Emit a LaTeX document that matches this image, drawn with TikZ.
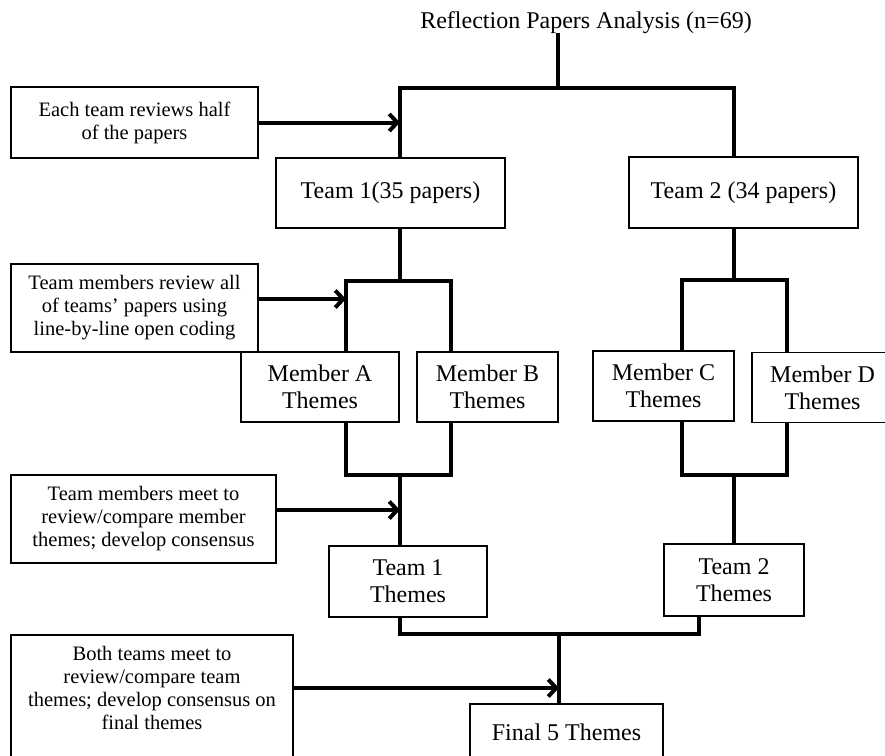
\documentclass[tikz,border=0pt]{standalone}
\usepackage{fontspec}
\setmainfont{Liberation Serif}
\usetikzlibrary{arrows.meta}
\newcommand{\bigtext}{\fontsize{24}{27}\selectfont}
\newcommand{\smalltext}{\fontsize{20.5}{23}\selectfont}
\begin{document}
\begin{tikzpicture}[
    x=1pt, y=-1pt,
    stage/.style={draw, line width=1.5pt, align=center, inner sep=2pt, font=\bigtext},
    note/.style={draw, line width=1.5pt, align=center, inner sep=2pt, font=\smalltext},
    link/.style={line width=4pt},
    flow/.style={link, -{Straight Barb[length=8pt,width=17pt]}}
]
\clip (0,0) rectangle (885,755);

% Title
\node[font=\bigtext, inner sep=0pt, anchor=base] (title) at (586,28) {Reflection Papers Analysis (n=69)};

% Teams
\node[stage, minimum width=229, minimum height=70] (team1) at (390.5,193) {Team 1(35 papers)};
\node[stage, minimum width=229, minimum height=71] (team2) at (743.5,192.5) {Team 2 (34 papers)};

% Members
\node[stage, minimum width=158, minimum height=70] (memberA) at (320,387) {Member A\\Themes};
\node[stage, minimum width=141, minimum height=70] (memberB) at (487.5,387) {Member B\\Themes};
\node[stage, minimum width=141, minimum height=70] (memberC) at (663.5,386) {Member C\\Themes};
\node[stage, minimum width=141, minimum height=70] (memberD) at (822.5,387.5) {Member D\\Themes};

% Team themes and final
\node[stage, minimum width=158, minimum height=71] (themes1) at (408,581.5) {Team 1\\Themes};
\node[stage, minimum width=140, minimum height=72] (themes2) at (734,580) {Team 2\\Themes};
\node[stage, minimum width=193, minimum height=56] (final) at (566.5,732) {Final 5 Themes};

% Notes on the left
\node[note, minimum width=247, minimum height=71] (eachnote) at (134.5,122.5) {Each team reviews half\\of the papers};
\node[note, minimum width=247, minimum height=88] (reviewnote) at (134.5,308) {Team members review all\\of teams’ papers using\\line-by-line open coding};
\node[note, minimum width=265, minimum height=88] (meetnote) at (143.5,519) {Team members meet to\\review/compare member\\themes; develop consensus};
\node[note, minimum width=282, minimum height=170, anchor=north] (bothnote) at (152,634) {};
\node[font=\smalltext, align=center] (bothtext) at (152,688) {Both teams meet to\\review/compare team\\themes; develop consensus on\\final themes};

% Columns and junctions
\coordinate (xL) at (400,0);
\coordinate (xR) at (734,0);
\coordinate (xA) at (346,0);
\coordinate (xB) at (451,0);
\coordinate (xC) at (682,0);
\coordinate (xD) at (787,0);
\coordinate (xE) at (699,0);
\coordinate (s1) at (558,88);
\coordinate (s2) at (400,281);
\coordinate (s3) at (734,280);
\coordinate (m1) at (400,475);
\coordinate (m2) at (734,475);
\coordinate (m3) at (559,634);

% Splits
\draw[link] (title.south -| s1) -- (s1);
\draw[link] (team1.north -| xL) |- (s1) -| (team2.north -| xR);
\draw[link] (team1.south -| xL) -- (s2);
\draw[link] (memberA.north -| xA) |- (s2) -| (memberB.north -| xB);
\draw[link] (team2.south -| xR) -- (s3);
\draw[link] (memberC.north -| xC) |- (s3) -| (memberD.north -| xD);

% Merges
\draw[link] (memberA.south -| xA) |- (m1) -| (memberB.south -| xB);
\draw[link] (m1) -- (themes1.north -| m1);
\draw[link] (memberC.south -| xC) |- (m2) -| (memberD.south -| xD);
\draw[link] (m2) -- (themes2.north -| m2);
\draw[link] (themes1.south -| xL) |- (m3) -| (themes2.south -| xE);
\draw[link] (m3) -- (final.north -| m3);

% Arrows from notes
\coordinate (ra) at ([yshift=9pt]reviewnote.east);
\coordinate (ma) at ([yshift=9pt]meetnote.east);
\draw[flow] (eachnote.east) -- (eachnote.east -| xL);
\draw[flow] (ra) -- (ra -| xA);
\draw[flow] (ma) -- (ma -| xL);
\draw[flow] (bothnote.east |- bothtext) -- (bothtext -| m3);

\end{tikzpicture}
\end{document}
